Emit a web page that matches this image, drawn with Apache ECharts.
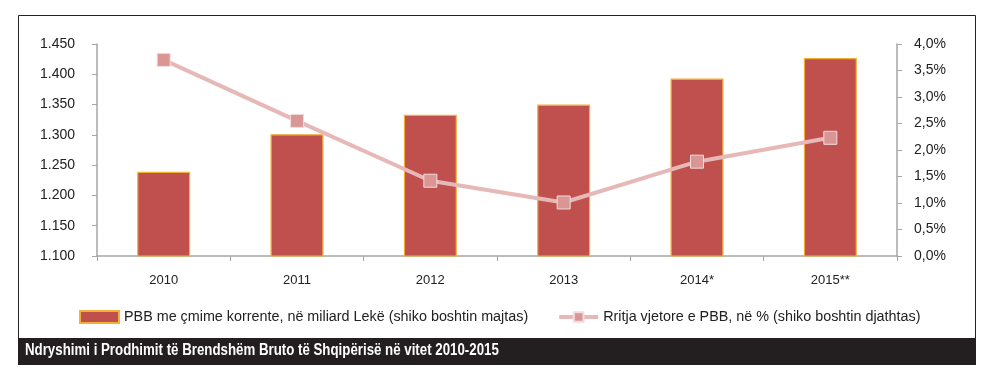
<!DOCTYPE html>
<html><head><meta charset="utf-8">
<script src="https://cdn.jsdelivr.net/npm/echarts@6/dist/echarts.min.js"></script>
<style>html,body{margin:0;padding:0;background:#fff}#c{width:991px;height:382px}</style>
</head><body><div id="c"></div>
<script>
const categories = ['2010','2011','2012','2013','2014*','2015**'];
const gdpValues = [1239, 1301, 1333, 1350, 1393, 1427];
const growthValues = [3.70, 2.55, 1.42, 1.01, 1.78, 2.23];
const barName = 'PBB me çmime korrente, në miliard Lekë (shiko boshtin majtas)';
const lineName = 'Rritja vjetore e PBB, në % (shiko boshtin djathtas)';
const titleText = 'Ndryshimi i Prodhimit të Brendshëm Bruto të Shqipërisë në vitet 2010-2015';

const chart = echarts.init(document.getElementById('c'));
const fontFam = 'Liberation Sans, Arial, sans-serif';
function fmtLeft(v){ const t=Math.floor(v/1000), r=Math.round(v%1000); return t+'.'+String(r).padStart(3,'0'); }
function fmtRight(v){ return v.toFixed(1).replace('.',',')+'%'; }
chart.setOption({
  animation:false,
  textStyle:{fontFamily:fontFam},
  graphic:[
    {type:'rect',shape:{x:18.5,y:15.5,width:957,height:323},style:{fill:'none',stroke:'#222',lineWidth:1},z:-1},
    {type:'rect',shape:{x:18,y:338,width:958,height:27},style:{fill:'#231F20'},z:-1},
    {type:'text',x:25,y:351,scaleX:0.83,style:{text:titleText,fill:'#fff',font:'bold 16px "Liberation Sans", sans-serif',textVerticalAlign:'middle',textAlign:'left'}}
  ],
  legend:{left:74,top:305,itemGap:29,itemWidth:39,itemHeight:12,
    textStyle:{fontSize:14.35,color:'#222',fontFamily:fontFam},
    data:[{name:barName,icon:'rect'},{name:lineName,lineStyle:{width:4}}]},
  grid:{left:97,right:94,top:44,bottom:126},
  xAxis:{type:'category',data:categories,boundaryGap:true,
    axisLine:{lineStyle:{color:'#A6A6A6',width:1.5}},
    axisTick:{show:true,length:5,lineStyle:{color:'#A6A6A6'}},
    axisLabel:{color:'#222',fontSize:13,margin:18}},
  yAxis:[
    {type:'value',min:1100,max:1450,interval:50,position:'left',
     axisLine:{show:true,lineStyle:{color:'#A6A6A6',width:1.5}},
     axisTick:{show:true,length:5,lineStyle:{color:'#A6A6A6'}},
     splitLine:{show:false},
     axisLabel:{color:'#222',fontSize:14,margin:22,formatter:fmtLeft}},
    {type:'value',min:0,max:4,interval:0.5,position:'right',
     axisLine:{show:true,lineStyle:{color:'#A6A6A6',width:1.5}},
     axisTick:{show:true,length:5,lineStyle:{color:'#A6A6A6'}},
     splitLine:{show:false},
     axisLabel:{color:'#222',fontSize:14,margin:17,formatter:fmtRight}}
  ],
  series:[
    {name:barName,type:'bar',yAxisIndex:0,data:gdpValues,barWidth:53,
     itemStyle:{color:'#C0504D',borderColor:'#F2B134',borderWidth:1.2}},
    {name:lineName,type:'line',yAxisIndex:1,data:growthValues,
     symbol:'rect',symbolSize:13,
     lineStyle:{color:'#E6B9B8',width:4},
     itemStyle:{color:'#D99694',borderColor:'#F2DCDB',borderWidth:1}}
  ]
});
</script></body></html>
